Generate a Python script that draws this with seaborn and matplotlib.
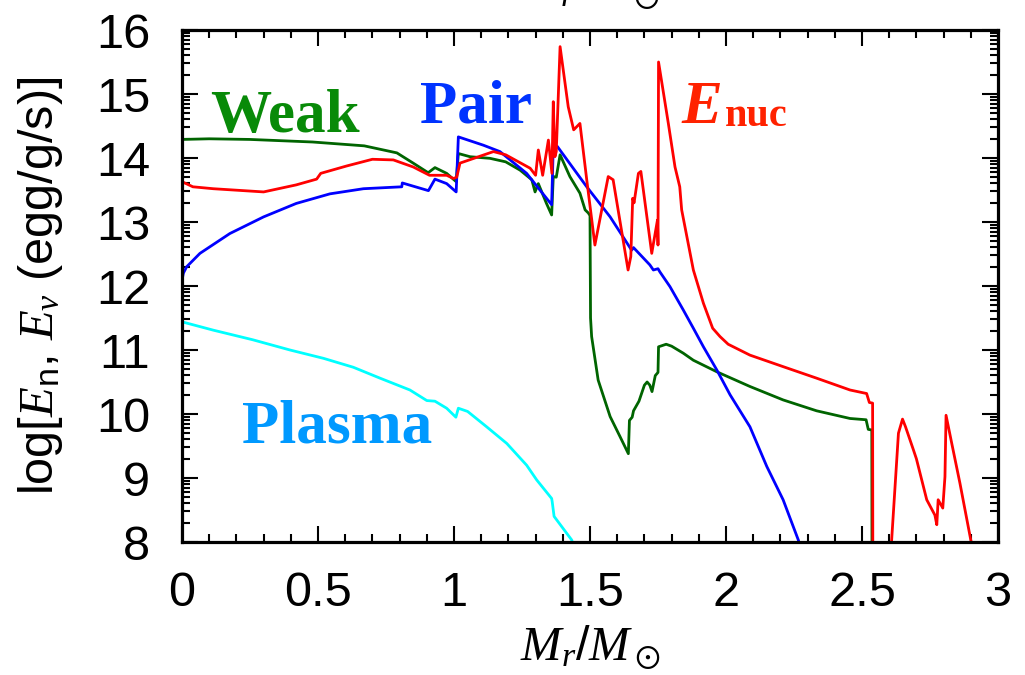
import numpy as np
import pandas as pd
import matplotlib
matplotlib.use("Agg")
import matplotlib.pyplot as plt
import seaborn as sns
from matplotlib.ticker import MultipleLocator, FixedLocator, FuncFormatter

# ---------------- data ----------------
weak_x = [0.0, 0.1, 0.25, 0.48, 0.67, 0.79, 0.85, 0.905, 0.93, 0.973, 1.008, 1.016,
          1.059, 1.132, 1.19, 1.243, 1.286, 1.298, 1.31, 1.34, 1.359, 1.365, 1.376,
          1.39, 1.426, 1.463, 1.482, 1.494, 1.500, 1.502, 1.506, 1.53, 1.574, 1.61,
          1.641, 1.645, 1.655, 1.66, 1.68, 1.70, 1.71, 1.72, 1.728, 1.74, 1.75, 1.752,
          1.78, 1.80, 1.843, 1.88, 1.966, 2.088, 2.21, 2.333, 2.456, 2.515, 2.523,
          2.536, 2.537]
weak_y = [14.29, 14.30, 14.29, 14.25, 14.19, 14.08, 13.92, 13.77, 13.85, 13.76, 13.63, 14.07,
          14.02, 13.995, 13.94, 13.81, 13.66, 13.47, 13.60, 13.29, 13.11, 13.71, 13.70,
          14.05, 13.71, 13.45, 13.19, 13.14, 13.10, 11.50, 11.21, 10.53, 9.96, 9.65,
          9.38, 9.90, 9.95, 10.05, 10.20, 10.45, 10.50, 10.45, 10.35, 10.60, 10.65, 11.05,
          11.09, 11.06, 10.95, 10.84, 10.66, 10.43, 10.22, 10.05, 9.93, 9.91, 9.76,
          9.75, 7.0]

pair_x = [0.0, 0.005, 0.017, 0.066, 0.176, 0.30, 0.42, 0.544, 0.667, 0.808, 0.81, 0.906,
          0.93, 0.973, 1.008, 1.016, 1.108, 1.169, 1.267, 1.359, 1.365, 1.38, 1.488,
          1.574, 1.653, 1.66, 1.72, 1.733, 1.75, 1.757, 1.794, 1.843, 1.88, 1.917,
          1.966, 2.015, 2.088, 2.15, 2.21, 2.266, 2.30]
pair_y = [12.09, 12.20, 12.30, 12.51, 12.82, 13.08, 13.29, 13.44, 13.52, 13.55, 13.61, 13.49,
          13.67, 13.60, 13.47, 14.33, 14.20, 14.10, 13.76, 13.27, 14.18, 14.18, 13.55,
          13.08, 12.56, 12.60, 12.33, 12.25, 12.27, 12.22, 11.99, 11.625, 11.34, 11.05,
          10.69, 10.30, 9.80, 9.18, 8.66, 8.03, 7.5]

plasma_x = [0.0, 0.115, 0.26, 0.397, 0.52, 0.63, 0.728, 0.838, 0.90, 0.93, 0.973, 1.007,
            1.016, 1.05, 1.12, 1.194, 1.267, 1.304, 1.359, 1.361, 1.368, 1.433, 1.46]
plasma_y = [11.44, 11.31, 11.16, 11.00, 10.87, 10.73, 10.56, 10.375, 10.21, 10.20, 10.09, 9.95,
            10.09, 10.04, 9.80, 9.54, 9.20, 8.97, 8.68, 8.63, 8.40, 8.03, 7.6]

nuc_x = [0.0, 0.04, 0.115, 0.30, 0.42, 0.495, 0.51, 0.605, 0.70, 0.777, 0.85, 0.91,
         0.973, 0.998, 1.01, 1.022, 1.145, 1.19, 1.28, 1.30, 1.31, 1.326, 1.347, 1.36,
         1.365, 1.371, 1.376, 1.39, 1.42, 1.44, 1.463, 1.488, 1.518, 1.567, 1.585,
         1.64, 1.65, 1.657, 1.662, 1.678, 1.687, 1.727, 1.748, 1.750, 1.752, 1.788,
         1.8125, 1.83, 1.837, 1.88, 1.917, 1.951, 1.978, 2.008, 2.088, 2.21, 2.333,
         2.456, 2.517, 2.527, 2.539, 2.540, 2.60, 2.609, 2.634, 2.649, 2.66, 2.689,
         2.70, 2.738, 2.768, 2.775, 2.78, 2.797, 2.805, 2.809, 2.83, 2.86, 2.90, 2.92]
nuc_y = [13.63, 13.55, 13.52, 13.47, 13.58, 13.67, 13.76, 13.875, 13.98, 13.97, 13.86, 13.73,
         13.73, 13.68, 13.70, 13.92, 14.10, 14.05, 13.84, 13.73, 14.125, 13.73, 14.28, 13.76,
         14.88, 14.02, 14.10, 15.74, 14.80, 14.44, 14.54, 13.66, 12.64, 13.71, 13.66,
         12.25, 12.46, 13.37, 13.30, 13.76, 13.79, 12.51, 13.03, 12.64, 15.50, 14.54,
         13.86, 13.55, 13.19, 12.25, 11.73, 11.34, 11.21, 11.09, 10.92, 10.74, 10.56,
         10.375, 10.32, 10.18, 10.17, 7.0, 7.0, 8.03, 9.70, 9.92, 9.80, 9.44,
         9.30, 8.66, 8.42, 8.27, 8.66, 8.53, 9.02, 9.98, 9.54, 8.92, 8.03, 7.7]

x_ticks = [0, 0.5, 1, 1.5, 2, 2.5, 3]
y_ticks = [8, 9, 10, 11, 12, 13, 14, 15, 16]

# ---------------- style ----------------
sns.set_theme(style="white")
plt.rcParams["font.family"] = ["Liberation Sans", "DejaVu Sans"]
plt.rcParams["mathtext.fontset"] = "custom"
plt.rcParams["mathtext.rm"] = "Liberation Sans"
plt.rcParams["mathtext.sf"] = "Liberation Sans"
plt.rcParams["mathtext.it"] = "Liberation Serif:italic"
plt.rcParams["mathtext.bf"] = "Liberation Serif:bold"
plt.rcParams["mathtext.fallback"] = "stix"
for key in ["text.color", "axes.labelcolor", "xtick.color", "ytick.color"]:
    plt.rcParams[key] = "black"

fig = plt.figure(figsize=(10.25, 6.75), dpi=100)
ax = fig.add_axes([182 / 1025, 1 - 542 / 675, (998 - 182) / 1025, (542 - 30) / 675])

def draw(xs, ys, color):
    df = pd.DataFrame({"x": xs, "y": ys})
    sns.lineplot(data=df, x="x", y="y", ax=ax, color=color, lw=2.0,
                 sort=False, estimator=None)

draw(plasma_x, plasma_y, "#00FFFF")
draw(weak_x, weak_y, "#006400")
draw(pair_x, pair_y, "#0000FF")
draw(nuc_x, nuc_y, "#FF0000")

ax.set_xlim(0, 3)
ax.set_ylim(8, 16)

ax.xaxis.set_major_locator(FixedLocator(x_ticks))
ax.xaxis.set_minor_locator(MultipleLocator(0.1))
ax.xaxis.set_major_formatter(FuncFormatter(lambda v, p: f"{v:g}"))
ax.yaxis.set_major_locator(FixedLocator(y_ticks))
ax.yaxis.set_minor_locator(FixedLocator(
    [k + np.log10(m) for k in range(8, 16) for m in range(2, 10)]))

for sp in ax.spines.values():
    sp.set_visible(True)
    sp.set_linewidth(2.3)
    sp.set_color("black")

ax.tick_params(which="both", direction="in", top=True, right=True,
               bottom=True, left=True, color="black", width=1.5)
ax.tick_params(which="major", length=11.5)
ax.tick_params(which="minor", length=5.8)
ax.tick_params(axis="x", which="major", pad=21, labelsize=35, labelcolor="black")
ax.tick_params(axis="y", which="major", pad=23, labelsize=35, labelcolor="black")

ax.set_xlabel(r"$M_r/M_\odot$", fontsize=35, labelpad=5)
ax.set_ylabel(r"log[$E_{\mathrm{n}}$, $E_{\nu}$ (egg/g/s)]", fontsize=35, labelpad=22)

# cut-off label of the panel above
fig.text(0.575, 1 + 12 / 675, r"$M_r/M_\odot$", fontsize=35, ha="center", va="center")

# annotations
serif = ["Liberation Serif", "DejaVu Serif"]
ax.text(0.103, 14.41, "Weak", color="#088A08", fontsize=44, fontweight="bold",
        family=serif, ha="left", va="baseline")
ax.text(0.875, 14.55, "Pair", color="#0033FF", fontsize=44, fontweight="bold",
        family=serif, ha="left", va="baseline")
ax.text(1.838, 14.55, "E", color="#FF2200", fontsize=44, fontweight="bold",
        fontstyle="italic", family=serif, ha="left", va="baseline")
ax.text(1.996, 14.50, "nuc", color="#FF2200", fontsize=29, fontweight="bold",
        family=serif, ha="left", va="baseline")
ax.text(0.22, 9.55, "Plasma", color="#0099FF", fontsize=44, fontweight="bold",
        family=serif, ha="left", va="baseline")

fig.savefig("out.png", dpi=100)
